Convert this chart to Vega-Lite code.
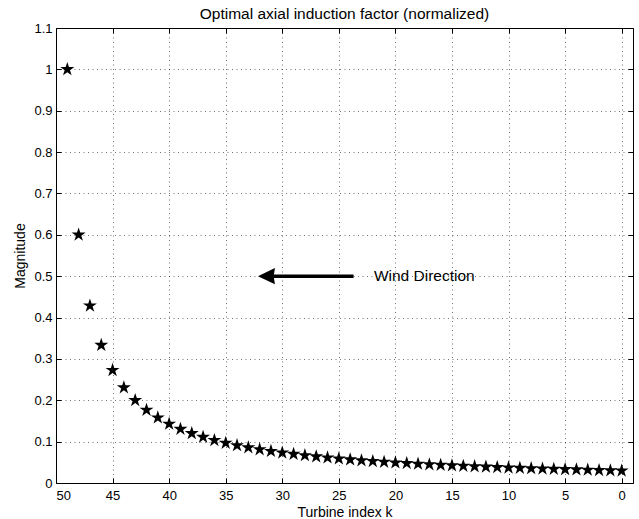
{
  "$schema": "https://vega.github.io/schema/vega-lite/v6.json",
  "autosize": {"type": "none"},
  "padding": {"left": 56, "top": 28, "right": 6, "bottom": 36},
  "width": 577,
  "height": 455,
  "background": "white",
  "title": {"text": "Optimal axial induction factor (normalized)", "fontSize": 15.5, "font": "Liberation Sans", "fontWeight": "normal", "color": "black", "offset": 0},
  "config": {
    "view": {"stroke": "black", "strokeWidth": 1},
    "font": "Liberation Sans",
    "axis": {"labelFont": "Liberation Sans", "titleFont": "Liberation Sans", "labelColor": "black", "titleColor": "black", "domainColor": "black", "tickColor": "black", "titleFontWeight": "normal", "labelFontSize": 13, "titleFontSize": 14}
  },
  "datasets": {
    "pts": [
      {"k": 49, "v": 1}, {"k": 48, "v": 0.6}, {"k": 47, "v": 0.4286}, {"k": 46, "v": 0.3333},
      {"k": 45, "v": 0.2727}, {"k": 44, "v": 0.2308}, {"k": 43, "v": 0.2}, {"k": 42, "v": 0.1765},
      {"k": 41, "v": 0.1579}, {"k": 40, "v": 0.1429}, {"k": 39, "v": 0.1304}, {"k": 38, "v": 0.12},
      {"k": 37, "v": 0.1111}, {"k": 36, "v": 0.1034}, {"k": 35, "v": 0.0968}, {"k": 34, "v": 0.0909},
      {"k": 33, "v": 0.0857}, {"k": 32, "v": 0.0811}, {"k": 31, "v": 0.0769}, {"k": 30, "v": 0.0732},
      {"k": 29, "v": 0.0698}, {"k": 28, "v": 0.0667}, {"k": 27, "v": 0.0638}, {"k": 26, "v": 0.0612},
      {"k": 25, "v": 0.0588}, {"k": 24, "v": 0.0566}, {"k": 23, "v": 0.0545}, {"k": 22, "v": 0.0526},
      {"k": 21, "v": 0.0508}, {"k": 20, "v": 0.0492}, {"k": 19, "v": 0.0476}, {"k": 18, "v": 0.0462},
      {"k": 17, "v": 0.0448}, {"k": 16, "v": 0.0435}, {"k": 15, "v": 0.0423}, {"k": 14, "v": 0.0411},
      {"k": 13, "v": 0.04}, {"k": 12, "v": 0.039}, {"k": 11, "v": 0.038}, {"k": 10, "v": 0.037},
      {"k": 9, "v": 0.0361}, {"k": 8, "v": 0.0353}, {"k": 7, "v": 0.0345}, {"k": 6, "v": 0.0337},
      {"k": 5, "v": 0.033}, {"k": 4, "v": 0.0323}, {"k": 3, "v": 0.0316}, {"k": 2, "v": 0.0309},
      {"k": 1, "v": 0.0303}, {"k": 0, "v": 0.0297}
    ],
    "arrow": [{"x1": 23.7, "x2": 30.8, "xh": 31.4, "xt": 21.9, "y": 0.5, "label": "Wind Direction"}]
  },
  "layer": [
    {
      "data": {"name": "pts"},
      "mark": {"type": "point", "shape": "M0,-1L0.2245,-0.309L0.951,-0.309L0.363,0.118L0.588,0.809L0,0.382L-0.588,0.809L-0.363,0.118L-0.951,-0.309L-0.2245,-0.309Z", "filled": true, "color": "black", "opacity": 1, "size": 215, "strokeWidth": 0},
      "encoding": {
        "x": {"field": "k", "type": "quantitative",
              "scale": {"domain": [-1, 50], "reverse": true, "nice": false, "zero": false},
              "axis": {"orient": "bottom", "title": "Turbine index k", "values": [0, 5, 10, 15, 20, 25, 30, 35, 40, 45, 50], "tickSize": -5, "labelPadding": 11, "titlePadding": 3, "grid": true, "gridDash": [1, 3.5], "gridColor": "#000", "gridOpacity": 0.55, "domain": false}},
        "y": {"field": "v", "type": "quantitative",
              "scale": {"domain": [0, 1.1], "nice": false, "zero": true},
              "axis": {"orient": "left", "title": "Magnitude", "values": [0, 0.1, 0.2, 0.3, 0.4, 0.5, 0.6, 0.7, 0.8, 0.9, 1, 1.1], "format": "~g", "tickSize": -5, "labelPadding": 9, "titlePadding": 6, "grid": true, "gridDash": [1, 3.5], "gridColor": "#000", "gridOpacity": 0.55, "domain": false}}
      }
    },
    {
      "data": {"name": "pts"},
      "mark": {"type": "point", "opacity": 0},
      "encoding": {
        "x": {"field": "k", "type": "quantitative",
              "axis": {"orient": "top", "title": null, "labels": false, "values": [0, 5, 10, 15, 20, 25, 30, 35, 40, 45, 50], "tickSize": -5, "grid": false, "domain": false}},
        "y": {"field": "v", "type": "quantitative",
              "axis": {"orient": "right", "title": null, "labels": false, "values": [0, 0.1, 0.2, 0.3, 0.4, 0.5, 0.6, 0.7, 0.8, 0.9, 1, 1.1], "tickSize": -5, "grid": false, "domain": false}}
      }
    },
    {
      "data": {"name": "arrow"},
      "mark": {"type": "rule", "color": "black", "strokeWidth": 3.5},
      "encoding": {
        "x": {"field": "x1", "type": "quantitative", "axis": null},
        "x2": {"field": "x2"},
        "y": {"field": "y", "type": "quantitative", "axis": null}
      }
    },
    {
      "data": {"name": "arrow"},
      "mark": {"type": "point", "shape": "M-1,0L1,-0.95L0.85,0L1,0.95Z", "filled": true, "color": "black", "opacity": 1, "size": 290, "strokeWidth": 0},
      "encoding": {
        "x": {"field": "xh", "type": "quantitative", "axis": null},
        "y": {"field": "y", "type": "quantitative", "axis": null}
      }
    },
    {
      "data": {"name": "arrow"},
      "mark": {"type": "text", "align": "left", "baseline": "middle", "fontSize": 15.5, "font": "Liberation Sans", "color": "black"},
      "encoding": {
        "x": {"field": "xt", "type": "quantitative", "axis": null},
        "y": {"field": "y", "type": "quantitative", "axis": null},
        "text": {"field": "label"}
      }
    }
  ],
  "resolve": {"axis": {"x": "independent", "y": "independent"}}
}
